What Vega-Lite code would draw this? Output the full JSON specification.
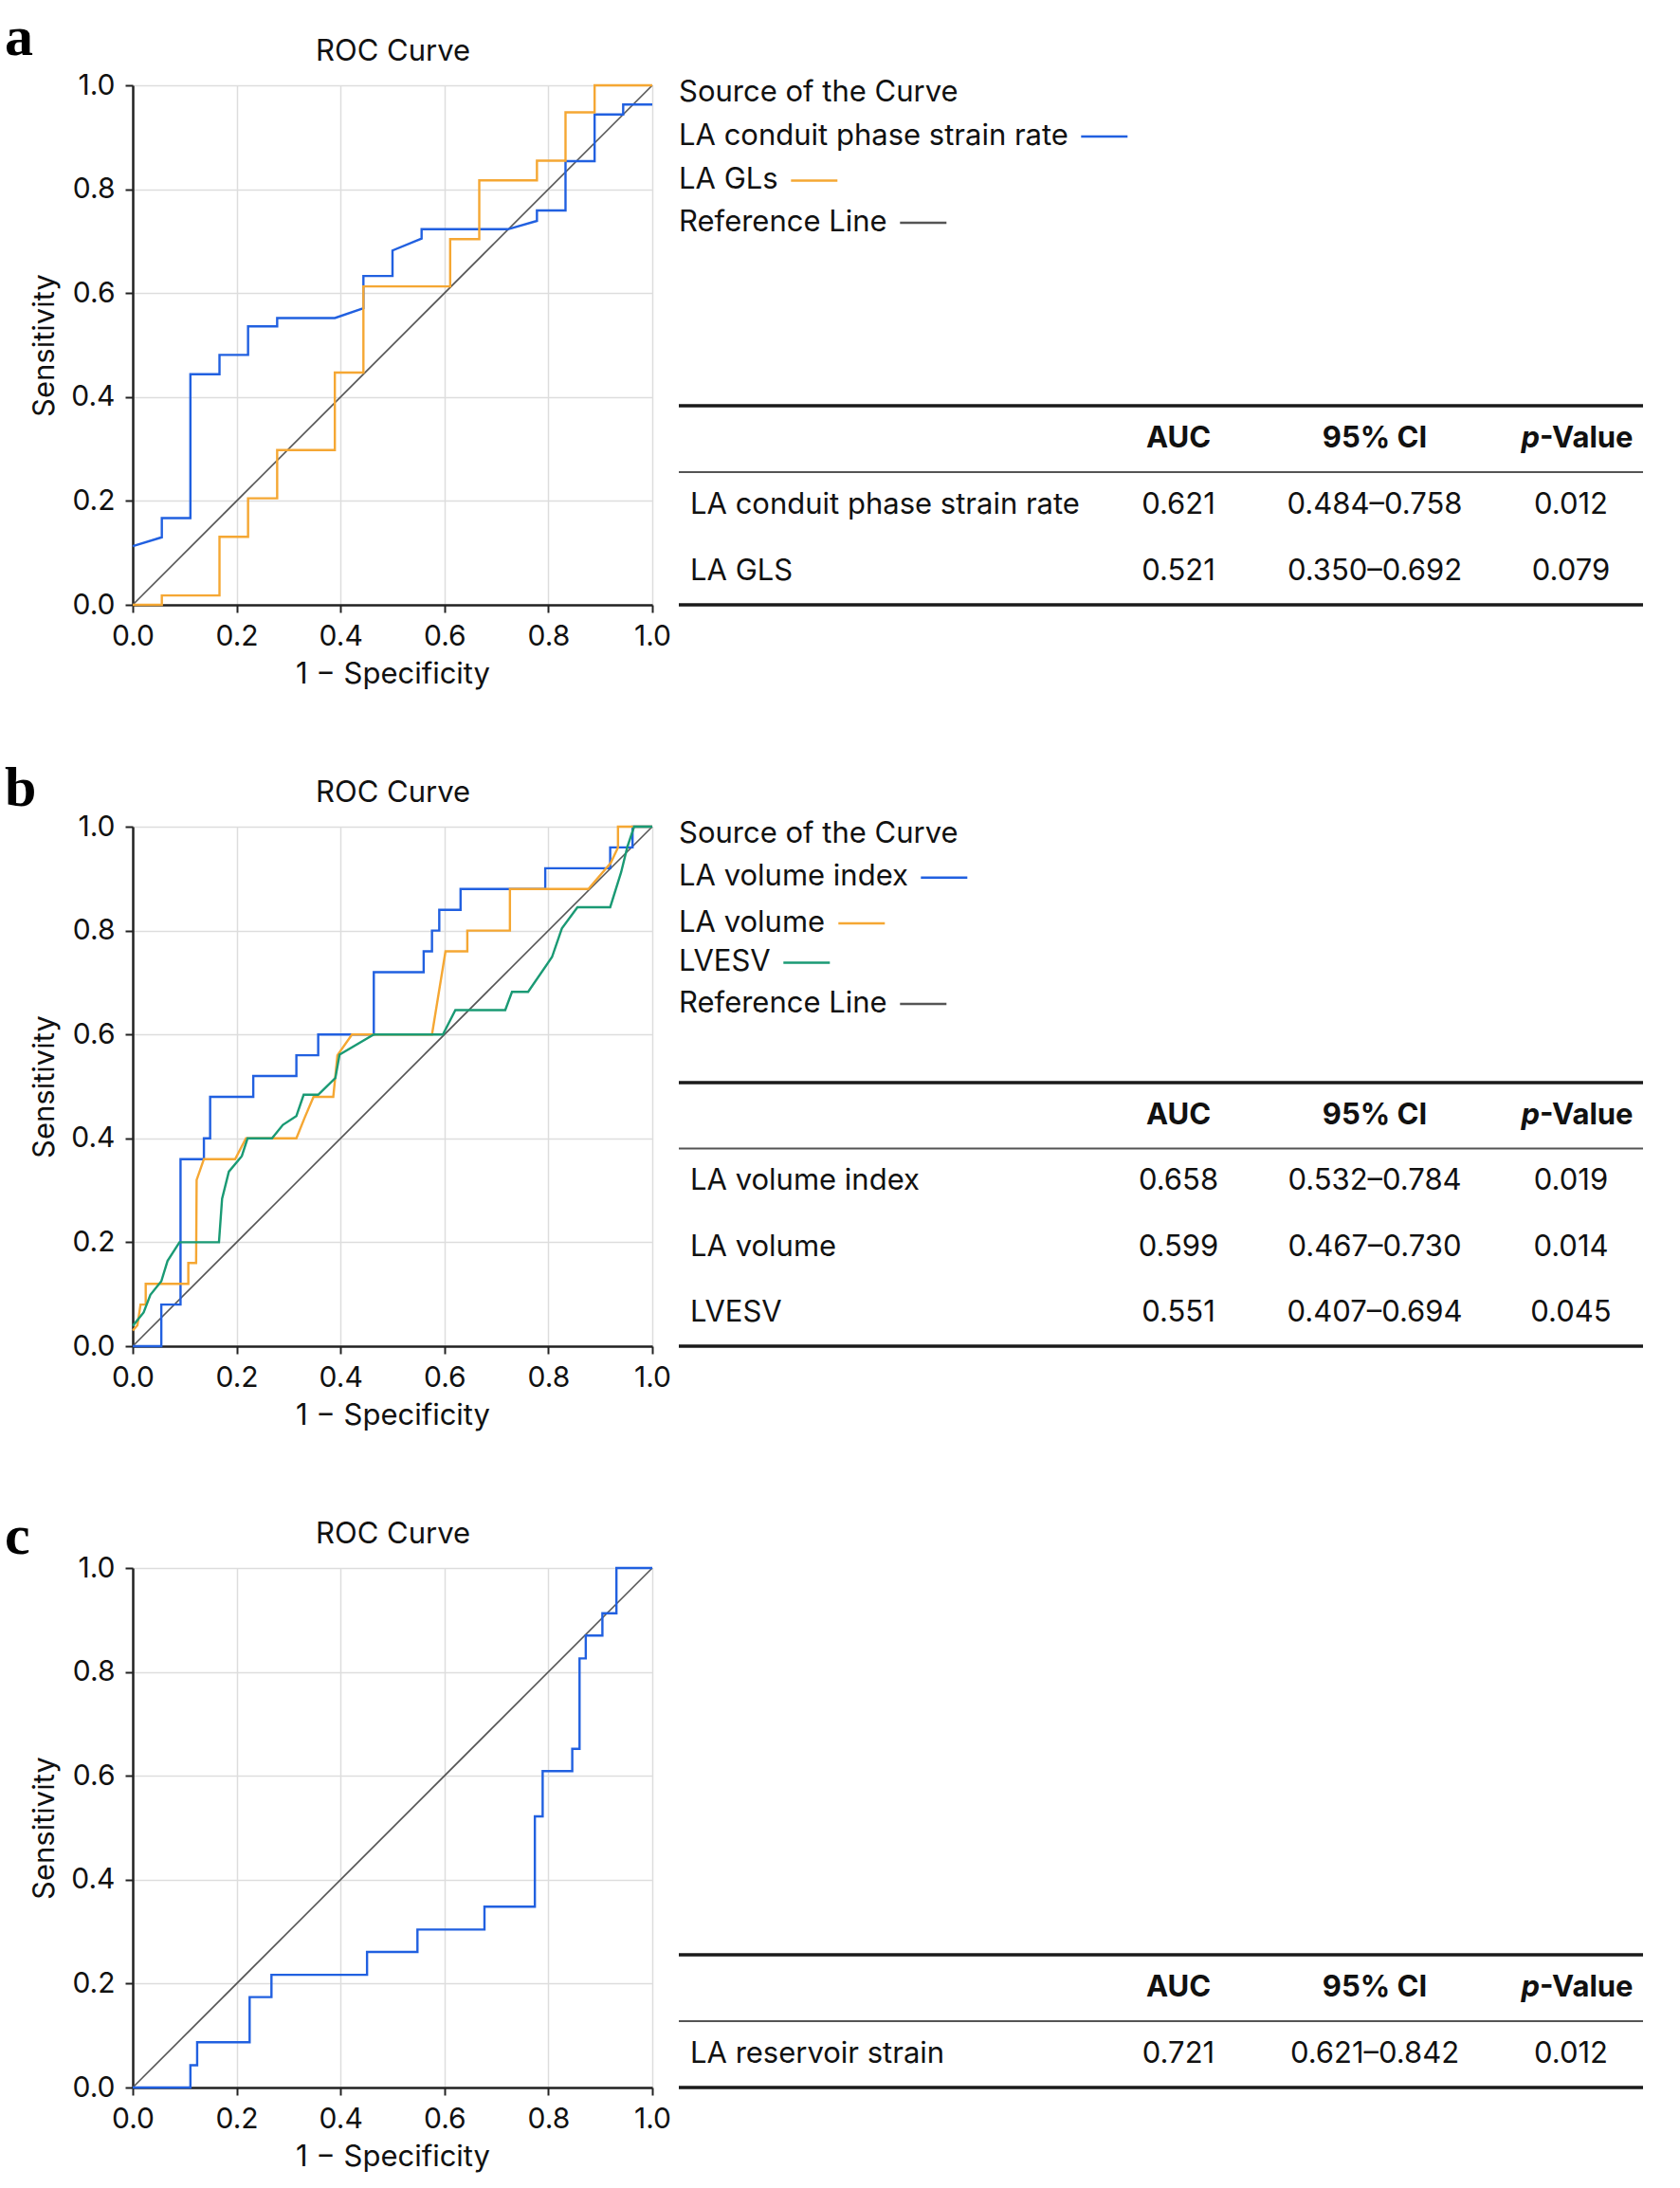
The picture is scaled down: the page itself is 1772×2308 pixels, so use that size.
{
"$schema":"https://vega.github.io/schema/vega-lite/v6.json",
"background":"white",
"padding":{"left":5,"top":10,"right":5,"bottom":5},
"columns":2,
"bounds":"flush",
"spacing":{"row":234,"column":28},
"resolve":{"scale":{"color":"independent","stroke":"independent"}},
"datasets":{
"diag":[{"x":0,"y":0},{"x":1,"y":1}],
"head":[{"row":"_h","col":"AUC","part":"whole","text":"AUC"},{"row":"_h","col":"CI","part":"whole","text":"95% CI"},{"row":"_h","col":"p","part":"italic","text":"p"},{"row":"_h","col":"p","part":"rest","text":"-Value"}],
"rocA":[
{"s":"LA conduit phase strain rate","i":0,"x":0,"y":0.113},{"s":"LA conduit phase strain rate","i":1,"x":0.056,"y":0.13},{"s":"LA conduit phase strain rate","i":2,"x":0.056,"y":0.167},{"s":"LA conduit phase strain rate","i":3,"x":0.111,"y":0.167},{"s":"LA conduit phase strain rate","i":4,"x":0.111,"y":0.444},{"s":"LA conduit phase strain rate","i":5,"x":0.167,"y":0.444},{"s":"LA conduit phase strain rate","i":6,"x":0.167,"y":0.481},{"s":"LA conduit phase strain rate","i":7,"x":0.222,"y":0.481},{"s":"LA conduit phase strain rate","i":8,"x":0.222,"y":0.536},{"s":"LA conduit phase strain rate","i":9,"x":0.278,"y":0.536},{"s":"LA conduit phase strain rate","i":10,"x":0.278,"y":0.552},{"s":"LA conduit phase strain rate","i":11,"x":0.389,"y":0.552},{"s":"LA conduit phase strain rate","i":12,"x":0.444,"y":0.571},{"s":"LA conduit phase strain rate","i":13,"x":0.444,"y":0.633},{"s":"LA conduit phase strain rate","i":14,"x":0.5,"y":0.633},{"s":"LA conduit phase strain rate","i":15,"x":0.5,"y":0.682},{"s":"LA conduit phase strain rate","i":16,"x":0.556,"y":0.705},{"s":"LA conduit phase strain rate","i":17,"x":0.556,"y":0.723},{"s":"LA conduit phase strain rate","i":18,"x":0.722,"y":0.723},{"s":"LA conduit phase strain rate","i":19,"x":0.778,"y":0.739},{"s":"LA conduit phase strain rate","i":20,"x":0.778,"y":0.759},{"s":"LA conduit phase strain rate","i":21,"x":0.833,"y":0.759},{"s":"LA conduit phase strain rate","i":22,"x":0.833,"y":0.854},{"s":"LA conduit phase strain rate","i":23,"x":0.889,"y":0.854},{"s":"LA conduit phase strain rate","i":24,"x":0.889,"y":0.944},{"s":"LA conduit phase strain rate","i":25,"x":0.944,"y":0.944},{"s":"LA conduit phase strain rate","i":26,"x":0.944,"y":0.963},{"s":"LA conduit phase strain rate","i":27,"x":1,"y":0.963},
{"s":"LA GLs","i":0,"x":0,"y":0},{"s":"LA GLs","i":1,"x":0.056,"y":0},{"s":"LA GLs","i":2,"x":0.056,"y":0.018},{"s":"LA GLs","i":3,"x":0.167,"y":0.018},{"s":"LA GLs","i":4,"x":0.167,"y":0.131},{"s":"LA GLs","i":5,"x":0.222,"y":0.131},{"s":"LA GLs","i":6,"x":0.222,"y":0.205},{"s":"LA GLs","i":7,"x":0.278,"y":0.205},{"s":"LA GLs","i":8,"x":0.278,"y":0.298},{"s":"LA GLs","i":9,"x":0.389,"y":0.298},{"s":"LA GLs","i":10,"x":0.389,"y":0.447},{"s":"LA GLs","i":11,"x":0.444,"y":0.447},{"s":"LA GLs","i":12,"x":0.444,"y":0.613},{"s":"LA GLs","i":13,"x":0.611,"y":0.613},{"s":"LA GLs","i":14,"x":0.611,"y":0.704},{"s":"LA GLs","i":15,"x":0.667,"y":0.704},{"s":"LA GLs","i":16,"x":0.667,"y":0.817},{"s":"LA GLs","i":17,"x":0.778,"y":0.817},{"s":"LA GLs","i":18,"x":0.778,"y":0.855},{"s":"LA GLs","i":19,"x":0.833,"y":0.855},{"s":"LA GLs","i":20,"x":0.833,"y":0.948},{"s":"LA GLs","i":21,"x":0.889,"y":0.948},{"s":"LA GLs","i":22,"x":0.889,"y":1},{"s":"LA GLs","i":23,"x":1,"y":1}
],
"rocB":[
{"s":"LA volume index","i":0,"x":0,"y":0},{"s":"LA volume index","i":1,"x":0.055,"y":0},{"s":"LA volume index","i":2,"x":0.055,"y":0.08},{"s":"LA volume index","i":3,"x":0.092,"y":0.08},{"s":"LA volume index","i":4,"x":0.092,"y":0.36},{"s":"LA volume index","i":5,"x":0.137,"y":0.36},{"s":"LA volume index","i":6,"x":0.137,"y":0.4},{"s":"LA volume index","i":7,"x":0.149,"y":0.4},{"s":"LA volume index","i":8,"x":0.149,"y":0.48},{"s":"LA volume index","i":9,"x":0.232,"y":0.48},{"s":"LA volume index","i":10,"x":0.232,"y":0.52},{"s":"LA volume index","i":11,"x":0.315,"y":0.52},{"s":"LA volume index","i":12,"x":0.315,"y":0.56},{"s":"LA volume index","i":13,"x":0.357,"y":0.56},{"s":"LA volume index","i":14,"x":0.357,"y":0.6},{"s":"LA volume index","i":15,"x":0.464,"y":0.6},{"s":"LA volume index","i":16,"x":0.464,"y":0.72},{"s":"LA volume index","i":17,"x":0.56,"y":0.72},{"s":"LA volume index","i":18,"x":0.56,"y":0.76},{"s":"LA volume index","i":19,"x":0.576,"y":0.76},{"s":"LA volume index","i":20,"x":0.576,"y":0.8},{"s":"LA volume index","i":21,"x":0.59,"y":0.8},{"s":"LA volume index","i":22,"x":0.59,"y":0.84},{"s":"LA volume index","i":23,"x":0.631,"y":0.84},{"s":"LA volume index","i":24,"x":0.631,"y":0.88},{"s":"LA volume index","i":25,"x":0.794,"y":0.88},{"s":"LA volume index","i":26,"x":0.794,"y":0.92},{"s":"LA volume index","i":27,"x":0.919,"y":0.92},{"s":"LA volume index","i":28,"x":0.919,"y":0.96},{"s":"LA volume index","i":29,"x":0.962,"y":0.96},{"s":"LA volume index","i":30,"x":0.962,"y":1},{"s":"LA volume index","i":31,"x":1,"y":1},
{"s":"LA volume","i":0,"x":0,"y":0.03},{"s":"LA volume","i":1,"x":0.009,"y":0.04},{"s":"LA volume","i":2,"x":0.015,"y":0.08},{"s":"LA volume","i":3,"x":0.025,"y":0.08},{"s":"LA volume","i":4,"x":0.025,"y":0.12},{"s":"LA volume","i":5,"x":0.107,"y":0.12},{"s":"LA volume","i":6,"x":0.107,"y":0.16},{"s":"LA volume","i":7,"x":0.122,"y":0.16},{"s":"LA volume","i":8,"x":0.123,"y":0.32},{"s":"LA volume","i":9,"x":0.137,"y":0.36},{"s":"LA volume","i":10,"x":0.197,"y":0.36},{"s":"LA volume","i":11,"x":0.218,"y":0.4},{"s":"LA volume","i":12,"x":0.315,"y":0.4},{"s":"LA volume","i":13,"x":0.331,"y":0.44},{"s":"LA volume","i":14,"x":0.348,"y":0.48},{"s":"LA volume","i":15,"x":0.386,"y":0.48},{"s":"LA volume","i":16,"x":0.394,"y":0.56},{"s":"LA volume","i":17,"x":0.422,"y":0.6},{"s":"LA volume","i":18,"x":0.576,"y":0.6},{"s":"LA volume","i":19,"x":0.602,"y":0.76},{"s":"LA volume","i":20,"x":0.644,"y":0.76},{"s":"LA volume","i":21,"x":0.644,"y":0.8},{"s":"LA volume","i":22,"x":0.726,"y":0.8},{"s":"LA volume","i":23,"x":0.726,"y":0.88},{"s":"LA volume","i":24,"x":0.877,"y":0.88},{"s":"LA volume","i":25,"x":0.92,"y":0.93},{"s":"LA volume","i":26,"x":0.934,"y":0.96},{"s":"LA volume","i":27,"x":0.934,"y":1},{"s":"LA volume","i":28,"x":1,"y":1},
{"s":"LVESV","i":0,"x":0,"y":0.039},{"s":"LVESV","i":1,"x":0.021,"y":0.065},{"s":"LVESV","i":2,"x":0.034,"y":0.099},{"s":"LVESV","i":3,"x":0.055,"y":0.125},{"s":"LVESV","i":4,"x":0.067,"y":0.164},{"s":"LVESV","i":5,"x":0.09,"y":0.2},{"s":"LVESV","i":6,"x":0.166,"y":0.2},{"s":"LVESV","i":7,"x":0.172,"y":0.284},{"s":"LVESV","i":8,"x":0.185,"y":0.336},{"s":"LVESV","i":9,"x":0.21,"y":0.366},{"s":"LVESV","i":10,"x":0.221,"y":0.4},{"s":"LVESV","i":11,"x":0.268,"y":0.4},{"s":"LVESV","i":12,"x":0.289,"y":0.426},{"s":"LVESV","i":13,"x":0.315,"y":0.443},{"s":"LVESV","i":14,"x":0.329,"y":0.484},{"s":"LVESV","i":15,"x":0.357,"y":0.484},{"s":"LVESV","i":16,"x":0.39,"y":0.516},{"s":"LVESV","i":17,"x":0.398,"y":0.561},{"s":"LVESV","i":18,"x":0.464,"y":0.6},{"s":"LVESV","i":19,"x":0.597,"y":0.6},{"s":"LVESV","i":20,"x":0.621,"y":0.647},{"s":"LVESV","i":21,"x":0.717,"y":0.647},{"s":"LVESV","i":22,"x":0.73,"y":0.682},{"s":"LVESV","i":23,"x":0.761,"y":0.682},{"s":"LVESV","i":24,"x":0.807,"y":0.749},{"s":"LVESV","i":25,"x":0.826,"y":0.804},{"s":"LVESV","i":26,"x":0.856,"y":0.845},{"s":"LVESV","i":27,"x":0.919,"y":0.845},{"s":"LVESV","i":28,"x":0.94,"y":0.912},{"s":"LVESV","i":29,"x":0.952,"y":0.961},{"s":"LVESV","i":30,"x":0.965,"y":1},{"s":"LVESV","i":31,"x":1,"y":1}
],
"rocC":[
{"s":"LA reservoir strain","i":0,"x":0,"y":0},{"s":"LA reservoir strain","i":1,"x":0.111,"y":0},{"s":"LA reservoir strain","i":2,"x":0.111,"y":0.043},{"s":"LA reservoir strain","i":3,"x":0.124,"y":0.043},{"s":"LA reservoir strain","i":4,"x":0.124,"y":0.087},{"s":"LA reservoir strain","i":5,"x":0.225,"y":0.087},{"s":"LA reservoir strain","i":6,"x":0.225,"y":0.174},{"s":"LA reservoir strain","i":7,"x":0.267,"y":0.174},{"s":"LA reservoir strain","i":8,"x":0.267,"y":0.217},{"s":"LA reservoir strain","i":9,"x":0.451,"y":0.217},{"s":"LA reservoir strain","i":10,"x":0.451,"y":0.261},{"s":"LA reservoir strain","i":11,"x":0.548,"y":0.261},{"s":"LA reservoir strain","i":12,"x":0.548,"y":0.304},{"s":"LA reservoir strain","i":13,"x":0.677,"y":0.304},{"s":"LA reservoir strain","i":14,"x":0.677,"y":0.348},{"s":"LA reservoir strain","i":15,"x":0.774,"y":0.348},{"s":"LA reservoir strain","i":16,"x":0.774,"y":0.522},{"s":"LA reservoir strain","i":17,"x":0.789,"y":0.522},{"s":"LA reservoir strain","i":18,"x":0.789,"y":0.609},{"s":"LA reservoir strain","i":19,"x":0.846,"y":0.609},{"s":"LA reservoir strain","i":20,"x":0.846,"y":0.652},{"s":"LA reservoir strain","i":21,"x":0.86,"y":0.652},{"s":"LA reservoir strain","i":22,"x":0.86,"y":0.826},{"s":"LA reservoir strain","i":23,"x":0.872,"y":0.826},{"s":"LA reservoir strain","i":24,"x":0.872,"y":0.87},{"s":"LA reservoir strain","i":25,"x":0.904,"y":0.87},{"s":"LA reservoir strain","i":26,"x":0.904,"y":0.913},{"s":"LA reservoir strain","i":27,"x":0.931,"y":0.913},{"s":"LA reservoir strain","i":28,"x":0.931,"y":1},{"s":"LA reservoir strain","i":29,"x":1,"y":1}
],
"legA":[{"label":"Source of the Curve","series":"title"},{"label":"LA conduit phase strain rate","series":"LA conduit phase strain rate"},{"label":"LA GLs","series":"LA GLs"},{"label":"Reference Line","series":"Reference Line"}],
"legB":[{"label":"Source of the Curve","series":"title"},{"label":"LA volume index","series":"LA volume index"},{"label":"LA volume","series":"LA volume"},{"label":"LVESV","series":"LVESV"},{"label":"Reference Line","series":"Reference Line"}],
"tabA":[{"row":"LA conduit phase strain rate","AUC":"0.621","CI":"0.484–0.758","p":"0.012"},{"row":"LA GLS","AUC":"0.521","CI":"0.350–0.692","p":"0.079"}],
"tabB":[{"row":"LA volume index","AUC":"0.658","CI":"0.532–0.784","p":"0.019"},{"row":"LA volume","AUC":"0.599","CI":"0.467–0.730","p":"0.014"},{"row":"LVESV","AUC":"0.551","CI":"0.407–0.694","p":"0.045"}],
"tabC":[{"row":"LA reservoir strain","AUC":"0.721","CI":"0.621–0.842","p":"0.012"}],
"rulesA":[{"row":"_h","line":"top"},{"row":"_h","line":"mid"},{"row":"LA GLS","line":"bottom"}],
"rulesB":[{"row":"_h","line":"top"},{"row":"_h","line":"mid"},{"row":"LVESV","line":"bottom"}],
"rulesC":[{"row":"_h","line":"top"},{"row":"_h","line":"mid"},{"row":"LA reservoir strain","line":"bottom"}]
},
"concat":[
{"width":548,"height":548,
"title":{"text":"a","anchor":"start","frame":"group","font":"Liberation Serif","fontSize":60,"fontWeight":"bold","color":"#000000","offset":-33,"dx":-135},
"layer":[
{"data":{"name":"diag"},"mark":{"type":"line","color":"#555555","strokeWidth":1.6},"encoding":{"x":{"field":"x","type":"quantitative","scale":{"domain":[0,1],"nice":false},"axis":{"values":[0,0.2,0.4,0.6,0.8,1],"format":".1f","title":"1 − Specificity","labelPadding":10,"titlePadding":10,"labelFlush":false}},"y":{"field":"y","type":"quantitative","scale":{"domain":[0,1],"nice":false},"axis":{"values":[0,0.2,0.4,0.6,0.8,1],"format":".1f","title":"Sensitivity","labelPadding":11,"titlePadding":11,"labelFlush":false}}}},
{"data":{"name":"rocA"},"mark":{"type":"line","strokeWidth":2.4},"encoding":{"x":{"field":"x","type":"quantitative","scale":{"domain":[0,1],"nice":false},"axis":{"orient":"top","title":"ROC Curve","labels":false,"ticks":false,"domain":false,"grid":false,"titlePadding":20}},"y":{"field":"y","type":"quantitative"},"color":{"field":"s","type":"nominal","scale":{"domain":["LA conduit phase strain rate","LA GLs"],"range":["#2160E0","#F5A733"]},"legend":null},"order":{"field":"i","type":"quantitative"}}}
],
"resolve":{"scale":{"x":"independent"}}
},
{"width":1017,"height":548,
"layer":[
{"layer":[
{"data":{"name":"rulesA"},"transform":[{"filter":"datum.line==='top'"}],"mark":{"type":"rule","color":"#1a1a1a","strokeWidth":3.5},"encoding":{"y":{"field":"row","type":"nominal","bandPosition":0,"scale":{"type":"band","domain":["_h","LA conduit phase strain rate","LA GLS"],"range":[338,548],"paddingInner":0,"paddingOuter":0},"axis":null}}},
{"data":{"name":"rulesA"},"transform":[{"filter":"datum.line==='mid'"}],"mark":{"type":"rule","color":"#555555","strokeWidth":2},"encoding":{"y":{"field":"row","type":"nominal","bandPosition":1,"scale":{"type":"band","domain":["_h","LA conduit phase strain rate","LA GLS"],"range":[338,548],"paddingInner":0,"paddingOuter":0},"axis":null}}},
{"data":{"name":"rulesA"},"transform":[{"filter":"datum.line==='bottom'"}],"mark":{"type":"rule","color":"#1a1a1a","strokeWidth":3.5},"encoding":{"y":{"field":"row","type":"nominal","bandPosition":1,"scale":{"type":"band","domain":["_h","LA conduit phase strain rate","LA GLS"],"range":[338,548],"paddingInner":0,"paddingOuter":0},"axis":null}}},
{"data":{"name":"head"},"transform":[{"filter":"datum.part==='whole'"}],"mark":{"type":"text","fontWeight":"bold"},"encoding":{"x":{"field":"col","type":"nominal","scale":{"type":"point","domain":["AUC","CI","p"],"range":[527,941],"padding":0},"axis":null},"y":{"field":"row","type":"nominal","scale":{"type":"band","domain":["_h","LA conduit phase strain rate","LA GLS"],"range":[338,548],"paddingInner":0,"paddingOuter":0},"axis":null},"text":{"field":"text"}}},
{"data":{"name":"head"},"transform":[{"filter":"datum.part==='italic'"}],"mark":{"type":"text","fontWeight":"bold","fontStyle":"italic","align":"right","dx":-33},"encoding":{"x":{"field":"col","type":"nominal","scale":{"type":"point","domain":["AUC","CI","p"],"range":[527,941],"padding":0},"axis":null},"y":{"field":"row","type":"nominal","scale":{"type":"band","domain":["_h","LA conduit phase strain rate","LA GLS"],"range":[338,548],"paddingInner":0,"paddingOuter":0},"axis":null},"text":{"field":"text"}}},
{"data":{"name":"head"},"transform":[{"filter":"datum.part==='rest'"}],"mark":{"type":"text","fontWeight":"bold","align":"left","dx":-33},"encoding":{"x":{"field":"col","type":"nominal","scale":{"type":"point","domain":["AUC","CI","p"],"range":[527,941],"padding":0},"axis":null},"y":{"field":"row","type":"nominal","scale":{"type":"band","domain":["_h","LA conduit phase strain rate","LA GLS"],"range":[338,548],"paddingInner":0,"paddingOuter":0},"axis":null},"text":{"field":"text"}}},
{"data":{"name":"tabA"},"mark":{"type":"text","align":"left","dx":12},"encoding":{"x":{"value":0},"y":{"field":"row","type":"nominal","scale":{"type":"band","domain":["_h","LA conduit phase strain rate","LA GLS"],"range":[338,548],"paddingInner":0,"paddingOuter":0},"axis":null},"text":{"field":"row"}}},
{"data":{"name":"tabA"},"transform":[{"fold":["AUC","CI","p"],"as":["col","val"]}],"mark":{"type":"text"},"encoding":{"x":{"field":"col","type":"nominal","scale":{"type":"point","domain":["AUC","CI","p"],"range":[527,941],"padding":0},"axis":null},"y":{"field":"row","type":"nominal","scale":{"type":"band","domain":["_h","LA conduit phase strain rate","LA GLS"],"range":[338,548],"paddingInner":0,"paddingOuter":0},"axis":null},"text":{"field":"val"}}}
]},
{"data":{"name":"legA"},"transform":[{"filter":"datum.series==='title'"}],"mark":{"type":"text","align":"left","color":"#111111"},"encoding":{"x":{"value":0},"y":{"field":"label","type":"nominal","scale":{"type":"point","domain":["Source of the Curve","LA conduit phase strain rate","LA GLs","Reference Line"],"range":[8,145],"padding":0},"axis":null},"text":{"field":"label"}}},
{"data":{"name":"legA"},"transform":[{"filter":"datum.series==='LA conduit phase strain rate'"}],"mark":{"type":"point","opacity":0},"encoding":{"stroke":{"field":"series","type":"nominal","scale":{"domain":["LA conduit phase strain rate"],"range":["#2160E0"]},"legend":{"title":"LA conduit phase strain rate","legendX":0,"legendY":38.5,"labelExpr":"''"}}}},
{"data":{"name":"legA"},"transform":[{"filter":"datum.series==='LA GLs'"}],"mark":{"type":"point","opacity":0},"encoding":{"stroke":{"field":"series","type":"nominal","scale":{"domain":["LA GLs"],"range":["#F5A733"]},"legend":{"title":"LA GLs","legendX":0,"legendY":85,"labelExpr":"''"}}}},
{"data":{"name":"legA"},"transform":[{"filter":"datum.series==='Reference Line'"}],"mark":{"type":"point","opacity":0},"encoding":{"stroke":{"field":"series","type":"nominal","scale":{"domain":["Reference Line"],"range":["#555555"]},"legend":{"title":"Reference Line","legendX":0,"legendY":129.5,"labelExpr":"''"}}}}
],
"resolve":{"scale":{"y":"independent","stroke":"independent"}}
},
{"width":548,"height":548,
"title":{"text":"b","anchor":"start","frame":"group","font":"Liberation Serif","fontSize":60,"fontWeight":"bold","color":"#000000","offset":-43,"dx":-135},
"layer":[
{"data":{"name":"diag"},"mark":{"type":"line","color":"#555555","strokeWidth":1.6},"encoding":{"x":{"field":"x","type":"quantitative","scale":{"domain":[0,1],"nice":false},"axis":{"values":[0,0.2,0.4,0.6,0.8,1],"format":".1f","title":"1 − Specificity","labelPadding":10,"titlePadding":10,"labelFlush":false}},"y":{"field":"y","type":"quantitative","scale":{"domain":[0,1],"nice":false},"axis":{"values":[0,0.2,0.4,0.6,0.8,1],"format":".1f","title":"Sensitivity","labelPadding":11,"titlePadding":11,"labelFlush":false}}}},
{"data":{"name":"rocB"},"mark":{"type":"line","strokeWidth":2.4},"encoding":{"x":{"field":"x","type":"quantitative","scale":{"domain":[0,1],"nice":false},"axis":{"orient":"top","title":"ROC Curve","labels":false,"ticks":false,"domain":false,"grid":false,"titlePadding":20}},"y":{"field":"y","type":"quantitative"},"color":{"field":"s","type":"nominal","scale":{"domain":["LVESV","LA volume","LA volume index"],"range":["#1A9A74","#F5A733","#2160E0"]},"legend":null},"order":{"field":"i","type":"quantitative"}}}
],
"resolve":{"scale":{"x":"independent"}}
},
{"width":1017,"height":548,
"layer":[
{"layer":[
{"data":{"name":"rulesB"},"transform":[{"filter":"datum.line==='top'"}],"mark":{"type":"rule","color":"#1a1a1a","strokeWidth":3.5},"encoding":{"y":{"field":"row","type":"nominal","bandPosition":0,"scale":{"type":"band","domain":["_h","LA volume index","LA volume","LVESV"],"range":[270,548],"paddingInner":0,"paddingOuter":0},"axis":null}}},
{"data":{"name":"rulesB"},"transform":[{"filter":"datum.line==='mid'"}],"mark":{"type":"rule","color":"#555555","strokeWidth":2},"encoding":{"y":{"field":"row","type":"nominal","bandPosition":1,"scale":{"type":"band","domain":["_h","LA volume index","LA volume","LVESV"],"range":[270,548],"paddingInner":0,"paddingOuter":0},"axis":null}}},
{"data":{"name":"rulesB"},"transform":[{"filter":"datum.line==='bottom'"}],"mark":{"type":"rule","color":"#1a1a1a","strokeWidth":3.5},"encoding":{"y":{"field":"row","type":"nominal","bandPosition":1,"scale":{"type":"band","domain":["_h","LA volume index","LA volume","LVESV"],"range":[270,548],"paddingInner":0,"paddingOuter":0},"axis":null}}},
{"data":{"name":"head"},"transform":[{"filter":"datum.part==='whole'"}],"mark":{"type":"text","fontWeight":"bold"},"encoding":{"x":{"field":"col","type":"nominal","scale":{"type":"point","domain":["AUC","CI","p"],"range":[527,941],"padding":0},"axis":null},"y":{"field":"row","type":"nominal","scale":{"type":"band","domain":["_h","LA volume index","LA volume","LVESV"],"range":[270,548],"paddingInner":0,"paddingOuter":0},"axis":null},"text":{"field":"text"}}},
{"data":{"name":"head"},"transform":[{"filter":"datum.part==='italic'"}],"mark":{"type":"text","fontWeight":"bold","fontStyle":"italic","align":"right","dx":-33},"encoding":{"x":{"field":"col","type":"nominal","scale":{"type":"point","domain":["AUC","CI","p"],"range":[527,941],"padding":0},"axis":null},"y":{"field":"row","type":"nominal","scale":{"type":"band","domain":["_h","LA volume index","LA volume","LVESV"],"range":[270,548],"paddingInner":0,"paddingOuter":0},"axis":null},"text":{"field":"text"}}},
{"data":{"name":"head"},"transform":[{"filter":"datum.part==='rest'"}],"mark":{"type":"text","fontWeight":"bold","align":"left","dx":-33},"encoding":{"x":{"field":"col","type":"nominal","scale":{"type":"point","domain":["AUC","CI","p"],"range":[527,941],"padding":0},"axis":null},"y":{"field":"row","type":"nominal","scale":{"type":"band","domain":["_h","LA volume index","LA volume","LVESV"],"range":[270,548],"paddingInner":0,"paddingOuter":0},"axis":null},"text":{"field":"text"}}},
{"data":{"name":"tabB"},"mark":{"type":"text","align":"left","dx":12},"encoding":{"x":{"value":0},"y":{"field":"row","type":"nominal","scale":{"type":"band","domain":["_h","LA volume index","LA volume","LVESV"],"range":[270,548],"paddingInner":0,"paddingOuter":0},"axis":null},"text":{"field":"row"}}},
{"data":{"name":"tabB"},"transform":[{"fold":["AUC","CI","p"],"as":["col","val"]}],"mark":{"type":"text"},"encoding":{"x":{"field":"col","type":"nominal","scale":{"type":"point","domain":["AUC","CI","p"],"range":[527,941],"padding":0},"axis":null},"y":{"field":"row","type":"nominal","scale":{"type":"band","domain":["_h","LA volume index","LA volume","LVESV"],"range":[270,548],"paddingInner":0,"paddingOuter":0},"axis":null},"text":{"field":"val"}}}
]},
{"data":{"name":"legB"},"transform":[{"filter":"datum.series==='title'"}],"mark":{"type":"text","align":"left","color":"#111111"},"encoding":{"x":{"value":0},"y":{"field":"label","type":"nominal","scale":{"type":"point","domain":["Source of the Curve","LA volume index","LA volume","LVESV","Reference Line"],"range":[7.5,187],"padding":0},"axis":null},"text":{"field":"label"}}},
{"data":{"name":"legB"},"transform":[{"filter":"datum.series==='LA volume index'"}],"mark":{"type":"point","opacity":0},"encoding":{"stroke":{"field":"series","type":"nominal","scale":{"domain":["LA volume index"],"range":["#2160E0"]},"legend":{"title":"LA volume index","legendX":0,"legendY":38.2,"labelExpr":"''"}}}},
{"data":{"name":"legB"},"transform":[{"filter":"datum.series==='LA volume'"}],"mark":{"type":"point","opacity":0},"encoding":{"stroke":{"field":"series","type":"nominal","scale":{"domain":["LA volume"],"range":["#F5A733"]},"legend":{"title":"LA volume","legendX":0,"legendY":86.5,"labelExpr":"''"}}}},
{"data":{"name":"legB"},"transform":[{"filter":"datum.series==='LVESV'"}],"mark":{"type":"point","opacity":0},"encoding":{"stroke":{"field":"series","type":"nominal","scale":{"domain":["LVESV"],"range":["#1A9A74"]},"legend":{"title":"LVESV","legendX":0,"legendY":128,"labelExpr":"''"}}}},
{"data":{"name":"legB"},"transform":[{"filter":"datum.series==='Reference Line'"}],"mark":{"type":"point","opacity":0},"encoding":{"stroke":{"field":"series","type":"nominal","scale":{"domain":["Reference Line"],"range":["#555555"]},"legend":{"title":"Reference Line","legendX":0,"legendY":171.5,"labelExpr":"''"}}}}
],
"resolve":{"scale":{"y":"independent","stroke":"independent"}}
},
{"width":548,"height":548,
"title":{"text":"c","anchor":"start","frame":"group","font":"Liberation Serif","fontSize":60,"fontWeight":"bold","color":"#000000","offset":-50,"dx":-135},
"layer":[
{"data":{"name":"diag"},"mark":{"type":"line","color":"#555555","strokeWidth":1.6},"encoding":{"x":{"field":"x","type":"quantitative","scale":{"domain":[0,1],"nice":false},"axis":{"values":[0,0.2,0.4,0.6,0.8,1],"format":".1f","title":"1 − Specificity","labelPadding":10,"titlePadding":10,"labelFlush":false}},"y":{"field":"y","type":"quantitative","scale":{"domain":[0,1],"nice":false},"axis":{"values":[0,0.2,0.4,0.6,0.8,1],"format":".1f","title":"Sensitivity","labelPadding":11,"titlePadding":11,"labelFlush":false}}}},
{"data":{"name":"rocC"},"mark":{"type":"line","strokeWidth":2.4},"encoding":{"x":{"field":"x","type":"quantitative","scale":{"domain":[0,1],"nice":false},"axis":{"orient":"top","title":"ROC Curve","labels":false,"ticks":false,"domain":false,"grid":false,"titlePadding":20}},"y":{"field":"y","type":"quantitative"},"color":{"field":"s","type":"nominal","scale":{"domain":["LA reservoir strain"],"range":["#2160E0"]},"legend":null},"order":{"field":"i","type":"quantitative"}}}
],
"resolve":{"scale":{"x":"independent"}}
},
{"width":1017,"height":548,
"layer":[
{"data":{"name":"rulesC"},"transform":[{"filter":"datum.line==='top'"}],"mark":{"type":"rule","color":"#1a1a1a","strokeWidth":3.5},"encoding":{"y":{"field":"row","type":"nominal","bandPosition":0,"scale":{"type":"band","domain":["_h","LA reservoir strain"],"range":[408,548],"paddingInner":0,"paddingOuter":0},"axis":null}}},
{"data":{"name":"rulesC"},"transform":[{"filter":"datum.line==='mid'"}],"mark":{"type":"rule","color":"#555555","strokeWidth":2},"encoding":{"y":{"field":"row","type":"nominal","bandPosition":1,"scale":{"type":"band","domain":["_h","LA reservoir strain"],"range":[408,548],"paddingInner":0,"paddingOuter":0},"axis":null}}},
{"data":{"name":"rulesC"},"transform":[{"filter":"datum.line==='bottom'"}],"mark":{"type":"rule","color":"#1a1a1a","strokeWidth":3.5},"encoding":{"y":{"field":"row","type":"nominal","bandPosition":1,"scale":{"type":"band","domain":["_h","LA reservoir strain"],"range":[408,548],"paddingInner":0,"paddingOuter":0},"axis":null}}},
{"data":{"name":"head"},"transform":[{"filter":"datum.part==='whole'"}],"mark":{"type":"text","fontWeight":"bold"},"encoding":{"x":{"field":"col","type":"nominal","scale":{"type":"point","domain":["AUC","CI","p"],"range":[527,941],"padding":0},"axis":null},"y":{"field":"row","type":"nominal","scale":{"type":"band","domain":["_h","LA reservoir strain"],"range":[408,548],"paddingInner":0,"paddingOuter":0},"axis":null},"text":{"field":"text"}}},
{"data":{"name":"head"},"transform":[{"filter":"datum.part==='italic'"}],"mark":{"type":"text","fontWeight":"bold","fontStyle":"italic","align":"right","dx":-33},"encoding":{"x":{"field":"col","type":"nominal","scale":{"type":"point","domain":["AUC","CI","p"],"range":[527,941],"padding":0},"axis":null},"y":{"field":"row","type":"nominal","scale":{"type":"band","domain":["_h","LA reservoir strain"],"range":[408,548],"paddingInner":0,"paddingOuter":0},"axis":null},"text":{"field":"text"}}},
{"data":{"name":"head"},"transform":[{"filter":"datum.part==='rest'"}],"mark":{"type":"text","fontWeight":"bold","align":"left","dx":-33},"encoding":{"x":{"field":"col","type":"nominal","scale":{"type":"point","domain":["AUC","CI","p"],"range":[527,941],"padding":0},"axis":null},"y":{"field":"row","type":"nominal","scale":{"type":"band","domain":["_h","LA reservoir strain"],"range":[408,548],"paddingInner":0,"paddingOuter":0},"axis":null},"text":{"field":"text"}}},
{"data":{"name":"tabC"},"mark":{"type":"text","align":"left","dx":12},"encoding":{"x":{"value":0},"y":{"field":"row","type":"nominal","scale":{"type":"band","domain":["_h","LA reservoir strain"],"range":[408,548],"paddingInner":0,"paddingOuter":0},"axis":null},"text":{"field":"row"}}},
{"data":{"name":"tabC"},"transform":[{"fold":["AUC","CI","p"],"as":["col","val"]}],"mark":{"type":"text"},"encoding":{"x":{"field":"col","type":"nominal","scale":{"type":"point","domain":["AUC","CI","p"],"range":[527,941],"padding":0},"axis":null},"y":{"field":"row","type":"nominal","scale":{"type":"band","domain":["_h","LA reservoir strain"],"range":[408,548],"paddingInner":0,"paddingOuter":0},"axis":null},"text":{"field":"val"}}}
]}
],
"config":{
"view":{"stroke":null},
"font":"Inter",
"axis":{"labelFont":"Inter","titleFont":"Inter","labelFontSize":30,"titleFontSize":31,"titleFontWeight":"normal","labelColor":"#111111","titleColor":"#111111","domainColor":"#222222","domainWidth":2.5,"tickColor":"#222222","tickWidth":2,"tickSize":8,"gridColor":"#dddddd","gridWidth":1.5},
"legend":{"orient":"none","titleOrient":"left","titleAnchor":"start","titleBaseline":"top","titlePadding":22.3,"titleLimit":1000,"titleFont":"Inter","titleFontSize":31,"titleFontWeight":"normal","titleColor":"#111111","labelFontSize":31,"labelOffset":0,"symbolType":"M-1.75,0H1.75","symbolSize":784,"symbolStrokeWidth":2.4,"symbolOpacity":1,"padding":0,"offset":0},
"title":{"font":"Inter","fontSize":31,"fontWeight":"normal","color":"#111111"},
"text":{"font":"Inter","fontSize":31,"color":"#111111"}
}
}
